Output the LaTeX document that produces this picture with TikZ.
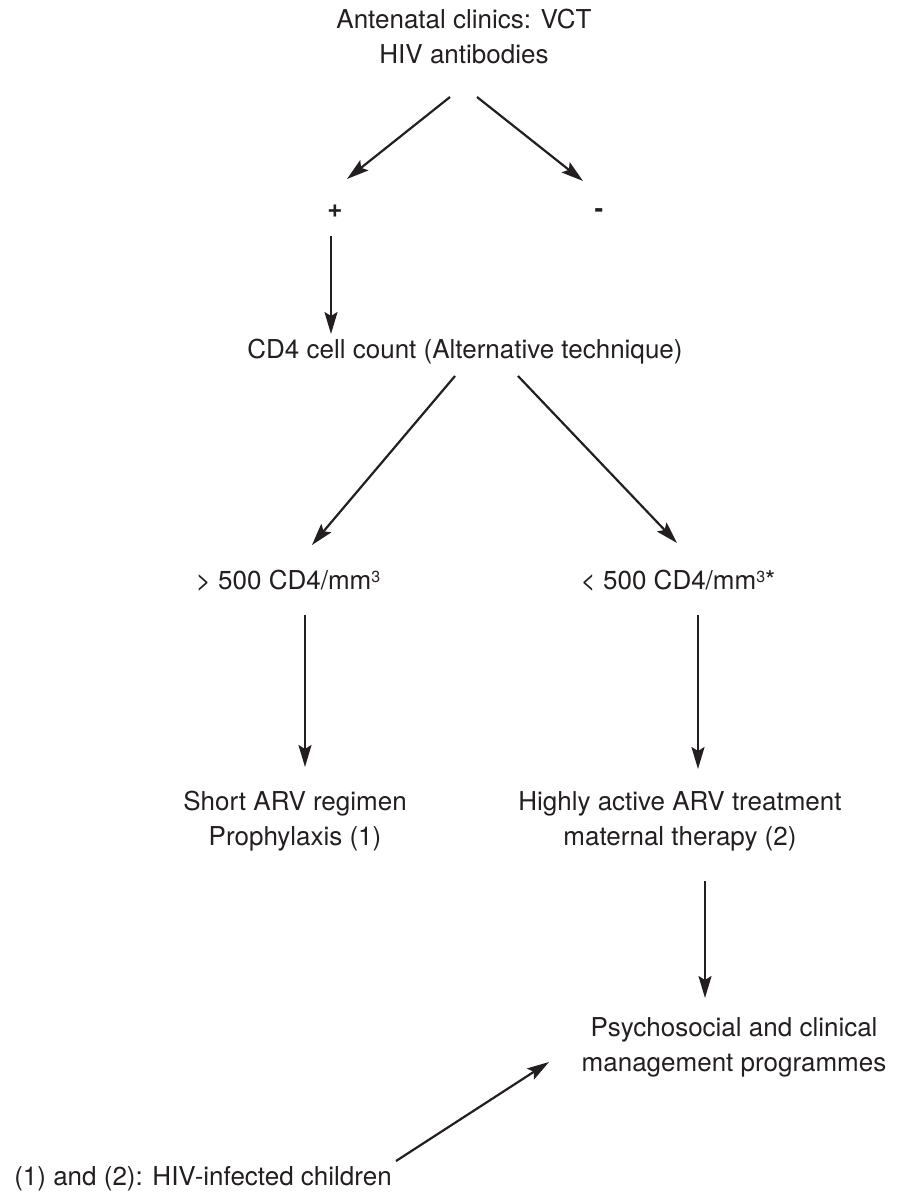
\documentclass[tikz,border=0pt]{standalone}
\usepackage{fontspec}
\setmainfont{TeX Gyre Heros}
\usetikzlibrary{arrows.meta}
\definecolor{ink}{RGB}{35,31,32}
\newcommand{\cube}{\raisebox{0.26em}{\fontsize{16pt}{16pt}\selectfont 3}}

\begin{document}
\begin{tikzpicture}[x=1pt, y=-1pt, >={Stealth[length=22pt, width=13pt, inset=4pt]},
        every node/.style={inner sep=0pt, text=ink, font=\fontsize{26pt}{35pt}\selectfont},
        lbl/.style={anchor=base, align=center},
        sign/.style={anchor=base, font=\fontsize{26pt}{35pt}\selectfont\bfseries},
        arr/.style={->, line width=2.2pt, draw=ink}]
        \useasboundingbox (0,0) rectangle (906,1193);

        % base anchor = baseline of the last line
        \node [lbl] (vct) at (464, 64) {Antenatal clinics: VCT\\HIV antibodies};
        \node [sign] (pos) at (335, 217) {+};
        \node [sign] (neg) at (599, 217) {-};
        \node [lbl] (cd4) at (465, 358) {CD4 cell count (Alternative technique)};
        \node [lbl] (high) at (288, 589) {> 500 CD4/mm\cube};
        \node [lbl] (low) at (678, 589) {< 500 CD4/mm\cube*};
        \node [lbl] (short) at (295, 845) {Short ARV regimen\\Prophylaxis (1)};
        \node [lbl] (haart) at (680, 845) {Highly active ARV treatment\\maternal therapy (2)};
        \node [lbl] (care) at (734, 1071) {Psychosocial and clinical\\management programmes};
        \node [lbl] (kids) at (203, 1185) {(1) and (2): HIV-infected children};

        \draw [arr] ([shift={(-14,33)}]vct.base) -- ([shift={(12,-38)}]pos.base);
        \draw [arr] ([shift={(13,33)}]vct.base) -- ([shift={(-16,-36)}]neg.base);
        \draw [arr] ([shift={(-4,19)}]pos.base) -- ([shift={(-134,-24)}]cd4.base);
        \draw [arr] ([shift={(-10,18)}]cd4.base) -- ([shift={(24,-44)}]high.base);
        \draw [arr] ([shift={(53,18)}]cd4.base) -- ([shift={(-1,-46)}]low.base);
        \draw [arr] ([shift={(17,26)}]high.base) -- ([shift={(10,-78)}]short.base);
        \draw [arr] ([shift={(20,26)}]low.base) -- ([shift={(18,-76)}]haart.base);
        \draw [arr] ([shift={(25,36)}]haart.base) -- ([shift={(-29,-73)}]care.base);
        \draw [arr] ([shift={(193,-24)}]kids.base) -- ([shift={(-185,-9)}]care.base);
    \end{tikzpicture}
\end{document}
